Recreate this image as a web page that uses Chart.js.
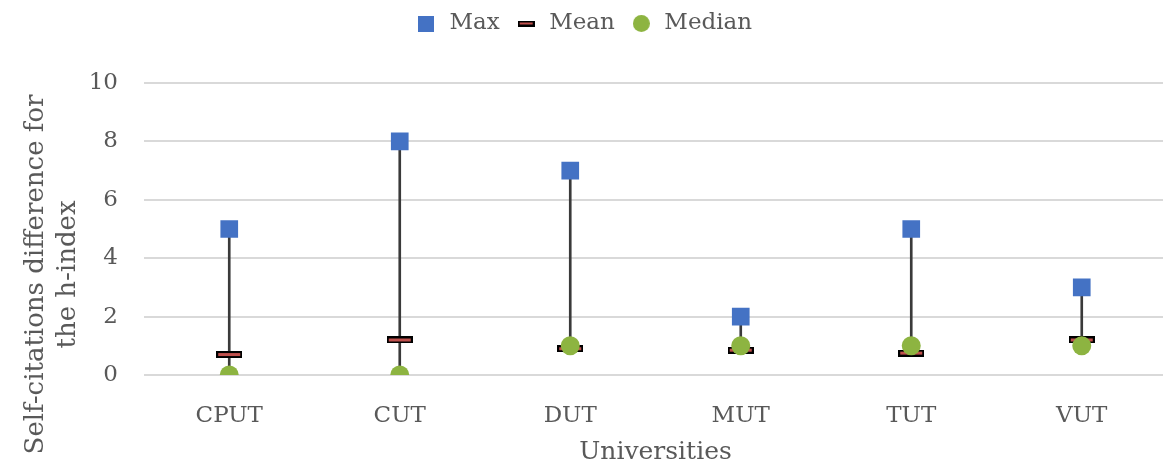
<!DOCTYPE html>
<html>
<head>
<meta charset="utf-8">
<script src="https://cdn.jsdelivr.net/npm/chart.js@4/dist/chart.umd.min.js"></script>
<style>
  html, body { margin: 0; padding: 0; background: #fff; overflow: hidden; }
</style>
</head>
<body>
<canvas id="selfCiteChart" width="1167" height="468"></canvas>
<script>
// data
var universities = ['CPUT', 'CUT', 'DUT', 'MUT', 'TUT', 'VUT'];
var maxValues    = [5, 8, 7, 2, 5, 3];
var meanValues   = [0.7, 1.2, 0.9, 0.85, 0.75, 1.2];
var medianValues = [0, 0, 1, 1, 1, 1];
var yTicks       = [0, 2, 4, 6, 8, 10];

var FONT = "'DejaVu Serif', 'Liberation Serif', serif";
var TXT = '#595959';

// high-low line: from the lowest marker up to the max
var rangeValues = [];
for (var i = 0; i < universities.length; i++) {
    var lo = Math.min(maxValues[i], meanValues[i], medianValues[i]);
    rangeValues.push([lo, maxValues[i]]);
}

// mean marker is a flat red dash with a black outline
function dashMarker(w, h) {
    var c = document.createElement('canvas');
    c.width = w; c.height = h;
    var g = c.getContext('2d');
    g.fillStyle = '#000';
    g.fillRect(0, 0, w, h);
    g.fillStyle = '#C0504D';
    g.fillRect(2, 2, w - 4, h - 4);
    return c;
}
function squareIcon(s, col) {
    var c = document.createElement('canvas');
    c.width = s; c.height = s;
    var g = c.getContext('2d');
    g.fillStyle = col;
    g.fillRect(0, 0, s, s);
    return c;
}
function dotIcon(s, col) {
    var c = document.createElement('canvas');
    c.width = s; c.height = s;
    var g = c.getContext('2d');
    g.fillStyle = col;
    g.beginPath();
    g.arc(s / 2, s / 2, s / 2, 0, Math.PI * 2);
    g.fill();
    return c;
}
var meanMarker = dashMarker(26, 7);
var legendIcons = {
    'Max': squareIcon(16, '#4472C4'),
    'Mean': dashMarker(17, 6),
    'Median': dotIcon(17, '#8DB441')
};

// legend: keep extra room between it and the plot
var legendGap = {
    id: 'legendGap',
    beforeInit: function (c) {
        var fit = c.legend.fit;
        c.legend.fit = function () {
            fit.call(this);
            this.height += 38;
        };
    }
};

// trailing spaces push the centred y title down a bit, as in the original
var pad = '           ';

var ctx = document.getElementById('selfCiteChart').getContext('2d');
var chart = new Chart(ctx, {
    type: 'bar',
    plugins: [legendGap],
    data: {
        labels: universities,
        datasets: [{
            type: 'line',
            label: 'Max',
            data: maxValues,
            showLine: false,
            pointStyle: 'rect',
            pointRadius: 12.5,
            pointHoverRadius: 12.5,
            backgroundColor: '#4472C4',
            borderColor: '#4472C4',
            borderWidth: 0,
            order: 2
        },
        {
            type: 'line',
            label: 'Mean',
            data: meanValues,
            showLine: false,
            pointStyle: meanMarker,
            backgroundColor: '#C0504D',
            borderColor: '#000',
            order: 3
        },
        {
            type: 'line',
            label: 'Median',
            data: medianValues,
            showLine: false,
            pointStyle: 'circle',
            pointRadius: 9.5,
            pointHoverRadius: 9.5,
            backgroundColor: '#8DB441',
            borderColor: '#8DB441',
            borderWidth: 0,
            order: 1
        },
        {
            label: 'range',
            data: rangeValues,
            backgroundColor: '#3a3a3a',
            borderWidth: 0,
            barThickness: 2,
            order: 4
        }]
    },
    options: {
        responsive: false,
        animation: false,
        layout: { autoPadding: false, padding: { top: -3, right: 0, left: 0, bottom: 0 } },
        plugins: {
            tooltip: { enabled: false },
            legend: {
                position: 'top',
                labels: {
                    font: { family: FONT, size: 23 },
                    color: TXT,
                    usePointStyle: true,
                    boxHeight: 16,
                    padding: 15,
                    filter: function (item) { return item.text !== 'range'; },
                    sort: function (a, b) { return a.datasetIndex - b.datasetIndex; },
                    generateLabels: function (c) {
                        var items = Chart.defaults.plugins.legend.labels.generateLabels(c);
                        items.forEach(function (it) {
                            if (legendIcons[it.text]) it.pointStyle = legendIcons[it.text];
                        });
                        return items;
                    }
                }
            }
        },
        scales: {
            x: {
                grid: { display: false },
                border: { display: false },
                ticks: { font: { family: FONT, size: 23 }, color: TXT, padding: 19 },
                title: {
                    display: true,
                    text: 'Universities',
                    font: { family: FONT, size: 25 },
                    color: TXT,
                    padding: { top: 0, bottom: 1 }
                },
                afterFit: function (s) { s.height = 93; }
            },
            y: {
                min: 0,
                max: 10,
                afterBuildTicks: function (s) {
                    s.ticks = yTicks.map(function (v) { return { value: v }; });
                },
                grid: { color: '#d9d9d9', lineWidth: 2, drawTicks: false },
                border: { display: false },
                ticks: { font: { family: FONT, size: 23 }, color: TXT, padding: 26 },
                title: {
                    display: true,
                    text: ['Self-citations difference for' + pad, 'the h-index' + pad],
                    font: { family: FONT, size: 26 },
                    color: TXT,
                    padding: { top: 21, bottom: 0 }
                },
                afterFit: function (s) { s.width = 144; }
            }
        }
    }
});
</script>
</body>
</html>
